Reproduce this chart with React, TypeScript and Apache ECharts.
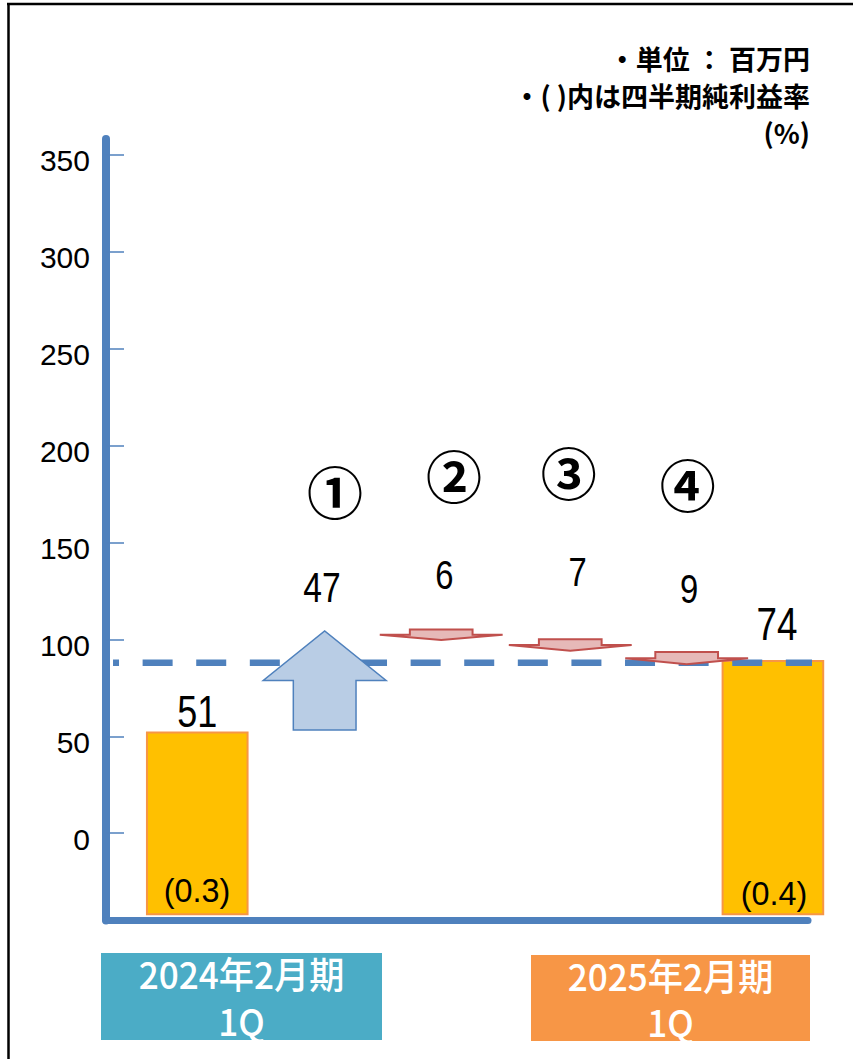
import React, { useEffect, useRef } from 'react';
import * as echarts from 'echarts';

// ---- data ----
const categories = ['2024年2月期\n1Q', '①', '②', '③', '④', '2025年2月期\n1Q'];
const circleLabels = ['①', '②', '③', '④'];
const valueLabels = ['51', '47', '6', '7', '9', '74'];
const marginLabels = ['(0.3)', '(0.4)'];
const yTicks = [0, 50, 100, 150, 200, 250, 300, 350];
// bar tops as drawn against the axis
const barTops = [52.0, 88.8];
const barBase = -41.8;
// arrows as drawn against the axis: start -> end
const arrowFrom = [53.2, 105.1, 100.0, 93.4];
const arrowTo = [104.3, 99.6, 94.1, 87.1];
const dashedLevel = 87.9;

// ---- layout (x in slot units, 0..6) ----
const BAR_X = [0.78, 5.7];
const ARROW_X = [1.869, 2.865, 3.968, 4.963];
const BAR_W = 0.86;
const SHAFT_W = 0.536;
const HEAD_W = 1.05;
const HEAD_RATIO = 0.5;
const DASH_X = [0.06, 6.077];
const VALUE_LABEL_POS = [[0.78, 63.0], [1.846, 126.4], [2.891, 133.1], [4.03, 134.7], [4.983, 126.1], [5.735, 108.0]];
const VALUE_LABEL_SIZE = [45, 42, 41, 41, 41, 46];
const CIRCLE_POS = [[1.957, 177.0], [2.974, 185.3], [3.955, 186.9], [4.972, 181.1]];
const MARGIN_POS = [[0.778, -29.3], [5.709, -30.8]];

const BLUE = '#4F81BD';
const LATIN = "'Liberation Sans', Arial, sans-serif";
const CJK = "'Noto Sans CJK JP', sans-serif";

export default function App() {
  const ref = useRef<HTMLDivElement>(null);
  useEffect(() => {
    if (!ref.current) return;
    const chart = echarts.init(ref.current, null, { renderer: 'svg' });

    const textEl = (x: number, y: number, text: string, size: number, opts: any = {}) => ({
      type: 'text',
      x,
      y,
      scaleX: opts.scaleX ?? 1,
      style: {
        text,
        fill: opts.fill ?? '#000',
        fontSize: size,
        fontFamily: opts.font ?? LATIN,
        fontWeight: opts.weight ?? 'normal',
        align: opts.align ?? 'center',
        verticalAlign: 'middle',
        textAlign: opts.align ?? 'center',
        textVerticalAlign: 'middle',
      },
    });

    const option: any = {
      animation: false,
      grid: { left: 106, right: 45, top: 139, bottom: 138.5 },
      xAxis: {
        type: 'value',
        min: 0,
        max: 6,
        axisLine: { show: true, onZero: false, lineStyle: { color: BLUE, width: 7 } },
        axisTick: { show: false },
        axisLabel: { show: false },
        splitLine: { show: false },
      },
      yAxis: {
        type: 'value',
        min: -45,
        max: 358,
        axisLine: { show: true, onZero: false, lineStyle: { color: BLUE, width: 8 } },
        axisTick: {
          show: true,
          inside: true,
          length: 18,
          customValues: yTicks,
          lineStyle: { color: BLUE, width: 1.5 },
        },
        axisLabel: {
          show: true,
          customValues: yTicks,
          margin: 16,
          formatter: '{a|{value}}',
          rich: {
            a: {
              fontSize: 30,
              fontFamily: LATIN,
              color: '#000',
              padding: [12, 0, 0, 0],
            },
          },
        },
        splitLine: { show: false },
      },
      series: [
        {
          name: 'bars',
          type: 'custom',
          z: 1,
          data: barTops.map((v, i) => [BAR_X[i], v]),
          renderItem: (params: any, api: any) => {
            const x = api.value(0);
            const top = api.value(1);
            const p1 = api.coord([x - BAR_W / 2, top]);
            const p2 = api.coord([x + BAR_W / 2, barBase]);
            return {
              type: 'rect',
              shape: { x: p1[0], y: p1[1], width: p2[0] - p1[0], height: p2[1] - p1[1] },
              style: { fill: '#FFC000', stroke: '#F79646', lineWidth: 2 },
            };
          },
        },
        {
          name: 'dashed',
          type: 'line',
          z: 2,
          clip: false,
          symbol: 'none',
          data: DASH_X.map((x) => [x, dashedLevel]),
          lineStyle: { color: BLUE, width: 6.5, type: [30, 23.6], dashOffset: 24 },
        },
        {
          name: 'arrows',
          type: 'custom',
          z: 3,
          data: arrowFrom.map((s, i) => [ARROW_X[i], s, arrowTo[i]]),
          renderItem: (params: any, api: any) => {
            const c = api.value(0);
            const s = api.value(1);
            const e = api.value(2);
            const h = s + (e - s) * HEAD_RATIO;
            const pts = [
              [c - SHAFT_W / 2, s],
              [c - SHAFT_W / 2, h],
              [c - HEAD_W / 2, h],
              [c, e],
              [c + HEAD_W / 2, h],
              [c + SHAFT_W / 2, h],
              [c + SHAFT_W / 2, s],
            ].map((p) => api.coord(p));
            const up = e > s;
            return {
              type: 'polygon',
              shape: { points: pts },
              style: {
                fill: up ? '#B9CDE5' : '#E6B9B8',
                stroke: up ? BLUE : '#C0504D',
                lineWidth: up ? 1.5 : 2,
              },
            };
          },
        },
        {
          name: 'valueLabels',
          type: 'custom',
          z: 4,
          data: VALUE_LABEL_POS.map((p) => [p[0], p[1]]),
          renderItem: (params: any, api: any) => {
            const p = api.coord([api.value(0), api.value(1)]);
            const i = params.dataIndex;
            return textEl(p[0], p[1], valueLabels[i], VALUE_LABEL_SIZE[i], { scaleX: 0.8 });
          },
        },
        {
          name: 'circleLabels',
          type: 'custom',
          z: 4,
          data: CIRCLE_POS.map((p) => [p[0], p[1]]),
          renderItem: (params: any, api: any) => {
            const p = api.coord([api.value(0), api.value(1)]);
            return textEl(p[0], p[1], circleLabels[params.dataIndex], 56, { font: CJK, weight: 'bold' });
          },
        },
        {
          name: 'marginLabels',
          type: 'custom',
          z: 4,
          data: MARGIN_POS.map((p) => [p[0], p[1]]),
          renderItem: (params: any, api: any) => {
            const p = api.coord([api.value(0), api.value(1)]);
            return textEl(p[0], p[1], marginLabels[params.dataIndex], 33, { scaleX: 0.98 });
          },
        },
      ],
      graphic: [
        { type: 'line', shape: { x1: 7, y1: 4, x2: 853, y2: 4 }, style: { stroke: '#000', lineWidth: 2.5 } },
        { type: 'line', shape: { x1: 8.5, y1: 3, x2: 8.5, y2: 1059 }, style: { stroke: '#000', lineWidth: 2.5 } },
        textEl(810, 58, '・単位 ： 百万円', 27, { font: CJK, weight: 'bold', align: 'right' }),
        textEl(810, 95, '・( )内は四半期純利益率', 27, { font: CJK, weight: 'bold', align: 'right' }),
        textEl(810, 132, '(%)', 27, { font: CJK, weight: 'bold', align: 'right' }),
        { type: 'rect', shape: { x: 101, y: 953, width: 281, height: 87 }, style: { fill: '#4BACC6' } },
        { type: 'rect', shape: { x: 531, y: 955, width: 279, height: 86 }, style: { fill: '#F79646' } },
        textEl(241.5, 973, categories[0].split('\n')[0], 37, { font: CJK, fill: '#fff', weight: 500, scaleX: 0.95 }),
        textEl(241.5, 1020, categories[0].split('\n')[1], 37, { font: CJK, fill: '#fff', weight: 500, scaleX: 0.95 }),
        textEl(670.5, 975, categories[5].split('\n')[0], 37, { font: CJK, fill: '#fff', weight: 500, scaleX: 0.95 }),
        textEl(670.5, 1021, categories[5].split('\n')[1], 37, { font: CJK, fill: '#fff', weight: 500, scaleX: 0.95 }),
      ],
    };

    chart.setOption(option);
    return () => chart.dispose();
  }, []);

  return (
    <div
      ref={ref}
      style={{ position: 'absolute', left: 0, top: 0, width: 853, height: 1059, background: '#fff' }}
    />
  );
}
